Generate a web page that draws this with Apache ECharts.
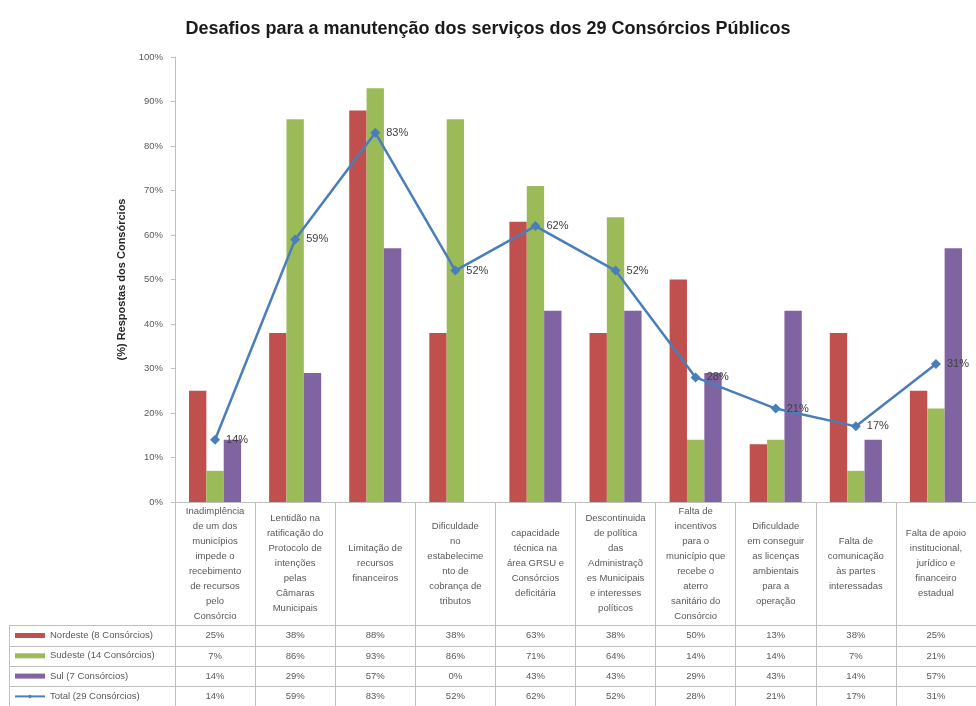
<!DOCTYPE html>
<html>
<head>
<meta charset="utf-8">
<script src="https://cdn.jsdelivr.net/npm/echarts@6/dist/echarts.min.js"></script>
<style>
html,body{margin:0;padding:0;background:#fff;}
#main{width:976px;height:706px;}
</style>
</head>
<body>
<div id="main"></div>
<script>
// ---- data ----
const categories = [
  "Inadimplência\nde um dos\nmunicípios\nimpede o\nrecebimento\nde recursos\npelo\nConsórcio",
  "Lentidão na\nratificação do\nProtocolo de\nintenções\npelas\nCâmaras\nMunicipais",
  "Limitação de\nrecursos\nfinanceiros",
  "Dificuldade\nno\nestabelecime\nnto de\ncobrança de\ntributos",
  "capacidade\ntécnica na\nárea GRSU e\nConsórcios\ndeficitária",
  "Descontinuida\nde política\ndas\nAdministraçõ\nes Municipais\ne interesses\npolíticos",
  "Falta de\nincentivos\npara o\nmunicípio que\nrecebe o\naterro\nsanitário do\nConsórcio",
  "Dificuldade\nem conseguir\nas licenças\nambientais\npara a\noperação",
  "Falta de\ncomunicação\nàs partes\ninteressadas",
  "Falta de apoio\ninstitucional,\njurídico e\nfinanceiro\nestadual"
];
const seriesNames = ["Nordeste (8 Consórcios)", "Sudeste (14 Consórcios)", "Sul (7 Consórcios)", "Total (29 Consórcios)"];
const nordeste = [25, 38, 88, 38, 63, 38, 50, 13, 38, 25];
const sudeste  = [7, 86, 93, 86, 71, 64, 14, 14, 7, 21];
const sul      = [14, 29, 57, 0, 43, 43, 29, 43, 14, 57];
const total    = [14, 59, 83, 52, 62, 52, 28, 21, 17, 31];
const yTicks = [0, 10, 20, 30, 40, 50, 60, 70, 80, 90, 100];

// ---- layout ----
const gridLeft = 175, gridTop = 57, gridBottomY = 502, gridWidth = 803;
const rowBorders = [625, 646, 666, 686, 706];
const legendLeft = 9;
const borderColor = '#bfbfbf';
const textColor = '#595959';
const font = 'Liberation Sans, Arial, sans-serif';

const rows = [nordeste, sudeste, sul, total];
const rowAxes = rows.map((vals, i) => ({
  type: 'category',
  gridIndex: 0,
  position: 'bottom',
  data: categories,
  offset: rowBorders[i] - gridBottomY,
  axisLine: { show: true, lineStyle: { color: borderColor, width: 1 } },
  axisTick: { show: false },
  splitLine: { show: false },
  axisLabel: {
    interval: 0,
    margin: (rowBorders[i + 1] - rowBorders[i]) / 2,
    verticalAlign: 'middle',
    fontSize: 9.5,
    fontFamily: font,
    color: textColor,
    formatter: (v, idx) => vals[idx] + '%'
  }
}));

const graphics = [];
rowBorders.slice(0, 4).forEach(y => {
  graphics.push({ type: 'line', shape: { x1: legendLeft, y1: y + 0.5, x2: gridLeft, y2: y + 0.5 }, style: { stroke: borderColor, lineWidth: 1 }, silent: true });
});
graphics.push({ type: 'line', shape: { x1: legendLeft + 0.5, y1: rowBorders[0], x2: legendLeft + 0.5, y2: rowBorders[4] }, style: { stroke: borderColor, lineWidth: 1 }, silent: true });

const chart = echarts.init(document.getElementById('main'), null, { renderer: 'canvas' });
chart.setOption({
  animation: false,
  backgroundColor: '#ffffff',
  title: {
    text: 'Desafios para a manutenção dos serviços dos 29 Consórcios Públicos',
    left: 'center',
    top: 15,
    textStyle: { fontSize: 18, fontWeight: 'bold', color: '#1a1a1a', fontFamily: font }
  },
  legend: {
    orient: 'vertical',
    left: legendLeft + 5,
    top: rowBorders[0] + 3.5,
    padding: 0,
    height: 90,
    itemWidth: 30,
    itemHeight: 5,
    itemGap: 6.3,
    textStyle: { fontSize: 9.5, color: textColor, fontFamily: font, lineHeight: 14 },
    data: [
      { name: seriesNames[0], icon: 'rect' },
      { name: seriesNames[1], icon: 'rect' },
      { name: seriesNames[2], icon: 'rect' },
      { name: seriesNames[3] }
    ]
  },
  grid: { left: gridLeft, top: gridTop, width: gridWidth, height: gridBottomY - gridTop, containLabel: false },
  xAxis: [{
    type: 'category',
    gridIndex: 0,
    position: 'bottom',
    data: categories,
    axisLine: { show: true, lineStyle: { color: borderColor, width: 1 } },
    axisTick: { show: true, length: rowBorders[4] - gridBottomY, lineStyle: { color: borderColor } },
    axisLabel: {
      interval: 0,
      margin: (rowBorders[0] - gridBottomY) / 2,
      verticalAlign: 'middle',
      fontSize: 9.5,
      lineHeight: 15,
      fontFamily: font,
      color: textColor,
      align: 'center'
    }
  }].concat(rowAxes),
  yAxis: {
    type: 'value',
    min: yTicks[0],
    max: yTicks[yTicks.length - 1],
    interval: yTicks[1] - yTicks[0],
    name: '(%) Respostas dos Consórcios',
    nameLocation: 'middle',
    nameRotate: 90,
    nameGap: 44,
    nameTextStyle: { fontSize: 11, fontWeight: 'bold', color: '#262626', fontFamily: font },
    axisLine: { show: true, lineStyle: { color: borderColor } },
    axisTick: { show: true, length: 4, lineStyle: { color: borderColor } },
    splitLine: { show: false },
    axisLabel: { formatter: '{value}%', fontSize: 9.5, color: textColor, fontFamily: font, margin: 12 }
  },
  series: [
    { name: seriesNames[0], type: 'bar', data: nordeste, barGap: '0%', barCategoryGap: '35%', itemStyle: { color: '#c0504d' } },
    { name: seriesNames[1], type: 'bar', data: sudeste, barGap: '0%', barCategoryGap: '35%', itemStyle: { color: '#9bbb59' } },
    { name: seriesNames[2], type: 'bar', data: sul, barGap: '0%', barCategoryGap: '35%', itemStyle: { color: '#8064a2' } },
    {
      name: seriesNames[3], type: 'line', data: total, z: 5,
      symbol: 'diamond', symbolSize: 10,
      lineStyle: { color: '#4a7ebb', width: 2.5 },
      itemStyle: { color: '#4a7ebb' },
      label: { show: true, position: 'right', distance: 6, formatter: p => p.value + '%', fontSize: 11, color: '#404040', fontFamily: font }
    }
  ],
  graphic: graphics
});
</script>
</body>
</html>
